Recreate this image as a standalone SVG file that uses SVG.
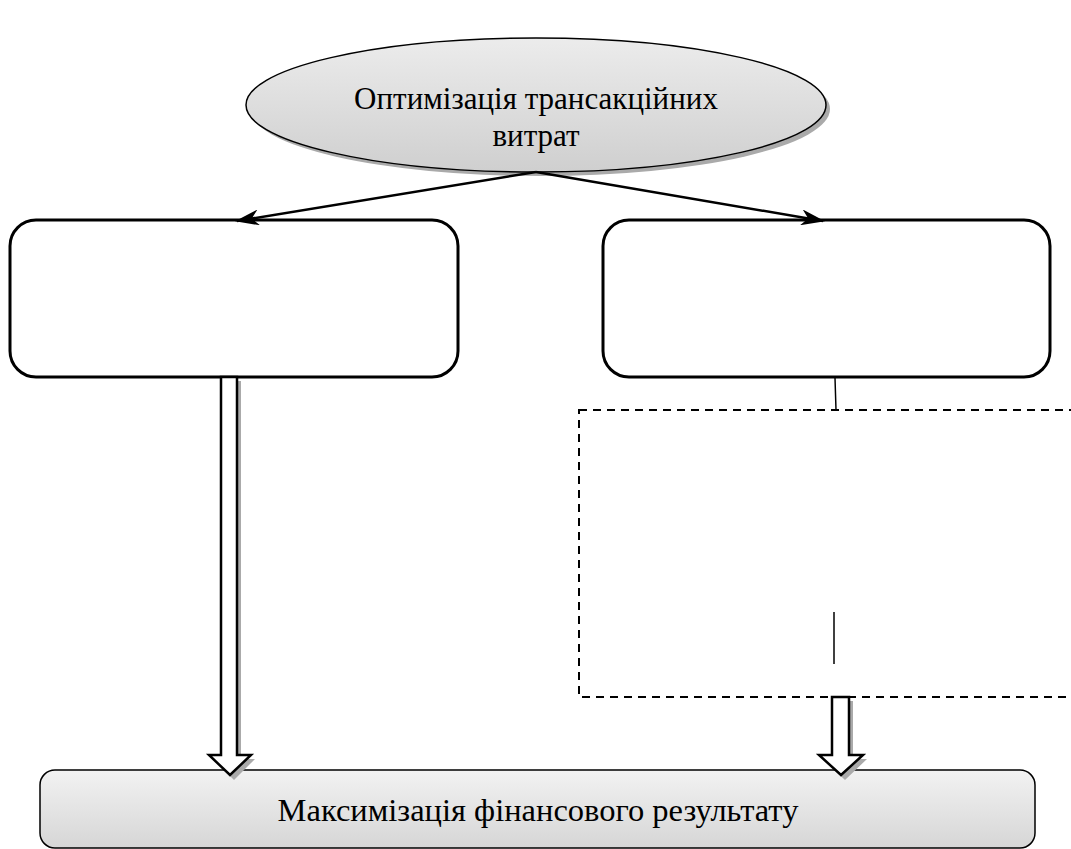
<svg xmlns="http://www.w3.org/2000/svg" width="1071" height="849" viewBox="0 0 1071 849">
<defs>
<linearGradient id="gEll" x1="0" y1="0" x2="0" y2="1">
<stop offset="0" stop-color="#ececec"/>
<stop offset="1" stop-color="#cfcfcf"/>
</linearGradient>
<linearGradient id="gBot" x1="0" y1="0" x2="0" y2="1">
<stop offset="0" stop-color="#f2f2f2"/>
<stop offset="1" stop-color="#d6d6d6"/>
</linearGradient>
<marker id="stealth" viewBox="0 0 24 16" refX="22" refY="8" markerWidth="24" markerHeight="16" markerUnits="userSpaceOnUse" orient="auto">
<path d="M0,0 L24,8 L0,16 L7,8 Z" fill="#000"/>
</marker>
</defs>
<style>
text{font-family:"Liberation Serif","Times New Roman",serif;fill:#000;text-anchor:middle}
.t1{font-size:31px}
.t2{font-size:32.5px}
.box{fill:#fff;stroke:#000;stroke-width:3}
.shadow{fill:#aaaaaa;stroke:none}
.bigarrow{fill:#fff;stroke:#000;stroke-width:2.5;stroke-linejoin:miter}
.conn{stroke:#000;stroke-width:2.5;fill:none}
</style>
<rect width="1071" height="849" fill="#fff"/>

<g id="node-top">
<ellipse cx="540" cy="109" rx="290" ry="67" class="shadow"/>
<ellipse cx="536" cy="105" rx="290" ry="67" fill="url(#gEll)" stroke="#000" stroke-width="1.5"/>
<text class="t1" x="536" y="109">Оптимізація трансакційних</text>
<text class="t1" x="536" y="146">витрат</text>
</g>

<g id="node-left">
<rect x="10" y="220" width="448" height="157" rx="26" class="box"/>
</g>

<g id="node-right">
<rect x="603" y="220" width="447" height="157" rx="26" class="box"/>
</g>

<g id="node-dashed">
<rect x="579" y="410" width="520" height="287" fill="none" stroke="#000" stroke-width="2" stroke-dasharray="8,6"/>
<line x1="834" y1="612" x2="834" y2="664" stroke="#000" stroke-width="1.5"/>
</g>

<g id="node-bottom">
<rect x="40" y="770" width="995" height="78" rx="15" fill="url(#gBot)" stroke="#000" stroke-width="1.5"/>
<text class="t2" x="538" y="821">Максимізація фінансового результату</text>
</g>

<g id="connectors">
<line x1="536" y1="172" x2="237" y2="221" class="conn" marker-end="url(#stealth)"/>
<line x1="536" y1="172" x2="823" y2="221" class="conn" marker-end="url(#stealth)"/>
<line x1="835" y1="378" x2="836" y2="410" stroke="#000" stroke-width="1.5"/>
<path d="M225,381 L241,381 L241,759 L255,759 L234,780 L213,759 L225,759 Z" class="shadow"/>
<path d="M221,377 L237,377 L237,755 L251,755 L230,775 L209,755 L221,755 Z" class="bigarrow"/>
<path d="M836,701 L853,701 L853,759 L867,759 L845,780 L823,759 L836,759 Z" class="shadow"/>
<path d="M832,697 L849,697 L849,755 L863,755 L841,775 L819,755 L832,755 Z" class="bigarrow"/>
</g>
</svg>
